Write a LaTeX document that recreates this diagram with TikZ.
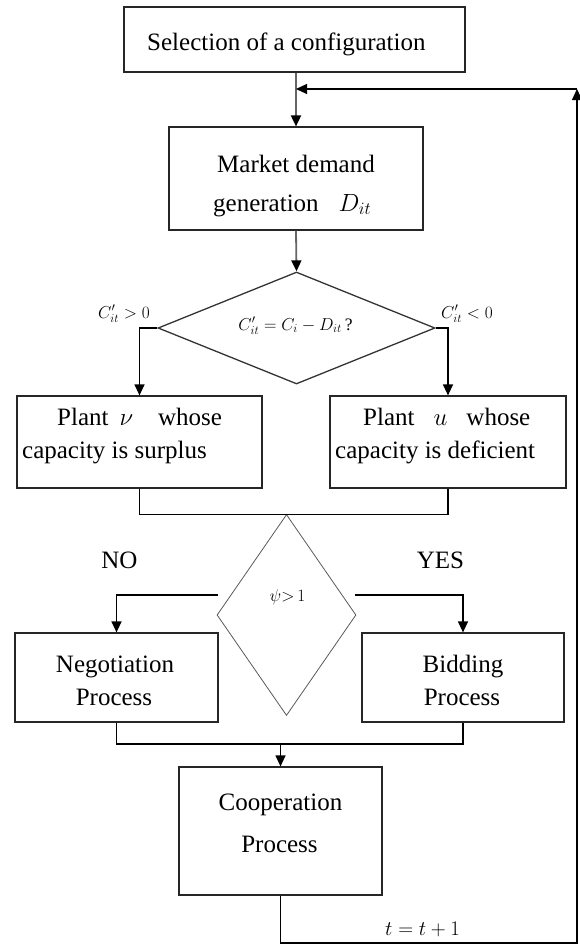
\documentclass[tikz,border=0pt]{standalone}
\usepackage{fontspec}
\setmainfont{Liberation Serif}
\usetikzlibrary{arrows.meta,shapes.geometric}
\tikzset{
  box/.style={draw=black!85, line width=1.2pt, inner sep=0pt},
  txt/.style={inner sep=0pt, font=\fontsize{25}{30}\selectfont},
  small/.style={inner sep=0pt, font=\fontsize{17.5}{20}\selectfont},
  conn/.style={draw=black, line width=1.2pt},
  gconn/.style={draw=black!60, line width=1.8pt},
  tip/.style={-{Triangle[length=11pt,width=10pt,color=black]}},
  dia1/.style={diamond, draw=black!80, line width=1.3pt, inner sep=0pt},
  dia2/.style={diamond, draw=black!65, line width=0.8pt, inner sep=0pt}
}
\begin{document}
\begin{tikzpicture}[x=1pt,y=-1pt]
\useasboundingbox (0,0) rectangle (579,945);
% boxes
\node[box, minimum width=341pt, minimum height=65pt] (b1) at (294.5,39.5) {};
\node[txt, anchor=base west] (t1) at (147,50) {Selection of a configuration};
\node[box, minimum width=254pt, minimum height=103pt] (b2) at (296,178.5) {};
\node[txt, anchor=base] (t2a) at (296,172) {Market demand};
\node[txt, anchor=base west] (t2b) at (213,211) {generation\hspace{20pt}$D_{it}$};
\node[dia1, minimum width=277pt, minimum height=112pt] (d1) at (296.5,328) {};
\node[small, anchor=base] (t3) at (295.5,330) {$C_{it}' = C_i - D_{it}$\,?};
\node[small, anchor=base west] (lp) at (98,318) {$C_{it}' > 0$};
\node[small, anchor=base west] (ln) at (441,318) {$C_{it}' < 0$};
\node[box, minimum width=245pt, minimum height=92pt] (b3) at (139.5,442) {};
\node[txt, anchor=base west] (t4a) at (57,425) {Plant\hspace{11pt}$\nu$\hspace{25pt}whose};
\node[txt, anchor=base west] (t4b) at (22,458) {capacity is surplus};
\node[box, minimum width=236pt, minimum height=92pt] (b4) at (448,442) {};
\node[txt, anchor=base west] (t5a) at (363,425) {Plant\hspace{19pt}$u$\hspace{19pt}whose};
\node[txt, anchor=base west] (t5b) at (335,458) {capacity is deficient};
\node[dia2, minimum width=139pt, minimum height=201pt] (d2) at (286.5,615) {};
\node[inner sep=0pt, font=\fontsize{18}{20}\selectfont, anchor=base] (t6) at (287.5,601) {$\psi{>}\,1$};
\node[txt, anchor=base] (no) at (119.5,568) {NO};
\node[txt, anchor=base] (yes) at (440.5,568) {YES};
\node[box, minimum width=203pt, minimum height=89pt] (b5) at (116.5,677.5) {};
\node[txt, anchor=base] (t7a) at (115,672) {Negotiation};
\node[txt, anchor=base] (t7b) at (114,705) {Process};
\node[box, minimum width=202pt, minimum height=89pt] (b6) at (463,677.5) {};
\node[txt, anchor=base] (t8a) at (463,672) {Bidding};
\node[txt, anchor=base] (t8b) at (462,705) {Process};
\node[box, minimum width=203pt, minimum height=128pt] (b7) at (280.5,831) {};
\node[txt, anchor=base] (t9a) at (280.5,810) {Cooperation};
\node[txt, anchor=base] (t9b) at (279.5,852) {Process};
\node[inner sep=0pt, font=\fontsize{21}{24}\selectfont, anchor=base west] (inc) at (385,935) {$t = t + 1$};
% coordinates
\coordinate (fb) at (296,89);
\coordinate (rt) at (577,89);
\coordinate (rb) at (577,943);
\coordinate (d2l) at (218,595);
\coordinate (d2r) at (355,595);
\coordinate (mg) at (280.5,744);
% connectors
\draw[gconn, tip] (b2.north |- b1.south) -- (b2.north);
\draw[gconn, tip] (b2.south) -- (d1.north);
\draw[conn, tip] (d1.west) -| (b3.north);
\draw[conn, tip] (d1.east) -| (b4.north);
\draw[conn] (b3.south) |- (d2.north) -| (b4.south);
\draw[conn, tip] (d2l) -| (b5.north);
\draw[conn, tip] (d2r) -| (b6.north);
\draw[conn] (b5.south) |- (mg) -| (b6.south);
\draw[conn, tip] (mg) -- (b7.north);
\draw[conn, tip] (b7.south) |- (rb) -- (rt);
\draw[conn, tip] (rt) -- (fb);
\end{tikzpicture}
\end{document}
